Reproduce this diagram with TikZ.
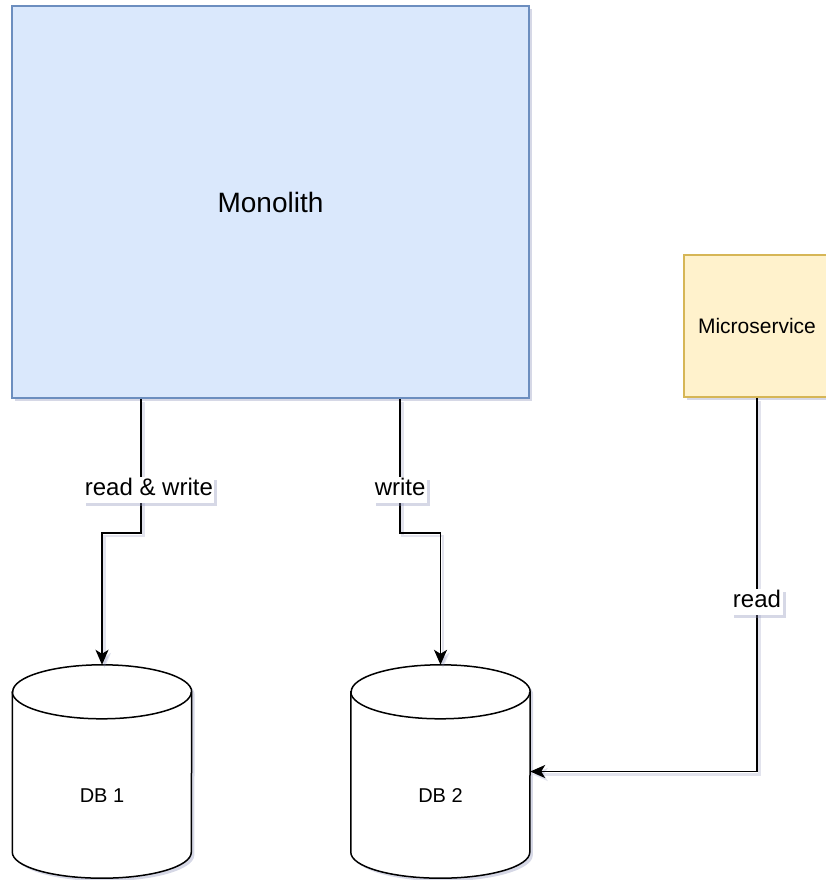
\documentclass[tikz,border=0pt]{standalone}
\usepackage{fontspec}
\setmainfont{Liberation Sans}
\usetikzlibrary{arrows.meta,shadows,calc}

\definecolor{monofill}{HTML}{DAE8FC}
\definecolor{monoline}{HTML}{6C8EBF}
\definecolor{msfill}{HTML}{FFF2CC}
\definecolor{msline}{HTML}{D6B656}
\definecolor{shadowcol}{HTML}{8A90B8}

\tikzset{
  softshadow/.style={drop shadow={shadow xshift=3pt, shadow yshift=-3pt, opacity=0.35, fill=shadowcol}},
  monobox/.style={draw=monoline, fill=monofill, line width=1.5pt, softshadow,
    minimum width=517pt, minimum height=392pt, inner sep=0pt,
    font=\fontsize{28}{32}\selectfont},
  msbox/.style={draw=msline, fill=msfill, line width=1.5pt, softshadow,
    minimum width=146pt, minimum height=142pt, inner sep=0pt,
    font=\fontsize{21}{25}\selectfont},
  dbframe/.style={minimum width=179pt, minimum height=213pt, inner sep=0pt},
  dbtext/.style={font=\fontsize{20}{24}\selectfont, inner sep=0pt},
  conn/.style={line width=1.6pt, -{Stealth[length=15pt, width=13pt, inset=4pt]},
    preaction={draw=shadowcol, opacity=0.25, line width=2.5pt,
      transform canvas={shift={(2.5pt,-3pt)}}}},
  lbl/.style={fill=white, softshadow, inner xsep=1.5pt, inner ysep=2pt,
    text height=17pt, text depth=5pt, font=\fontsize{24}{28}\selectfont},
}

% cylinder outline drawn around a frame node
\newcommand{\dbcylinder}[1]{%
  \fill[shadowcol, opacity=0.35, transform canvas={shift={(3pt,-3pt)}}]
    ([yshift=-27pt]#1.north west) -- ([yshift=26pt]#1.south west)
    arc[start angle=180, end angle=360, x radius=89.5pt, y radius=26pt]
    -- ([yshift=-27pt]#1.north east)
    arc[start angle=0, end angle=180, x radius=89.5pt, y radius=27pt] -- cycle;
  \draw[fill=white, line width=1.5pt]
    ([yshift=-27pt]#1.north west) -- ([yshift=26pt]#1.south west)
    arc[start angle=180, end angle=360, x radius=89.5pt, y radius=26pt]
    -- ([yshift=-27pt]#1.north east)
    arc[start angle=0, end angle=180, x radius=89.5pt, y radius=27pt] -- cycle;
  \draw[line width=1.5pt]
    ([yshift=-27pt]#1.north west)
    arc[start angle=180, end angle=360, x radius=89.5pt, y radius=27pt];
}

\begin{document}
\begin{tikzpicture}[x=1pt, y=-1pt]
  \useasboundingbox (0,0) rectangle (826,880);

  % services
  \node[monobox] (mono) at (270.5,202) {Monolith};
  \node[msbox] (ms) at (757,326) {Microservice};

  % databases
  \node[dbframe] (db1) at (102,771.5) {};
  \node[dbframe] (db2) at (440.5,771.5) {};
  \dbcylinder{db1}
  \dbcylinder{db2}
  \node[dbtext] (db1lbl) at ([yshift=-24pt]db1.center) {DB 1};
  \node[dbtext] (db2lbl) at ([yshift=-24pt]db2.center) {DB 2};

  % exit points on the monolith's lower edge
  \coordinate (m1) at ($(mono.south west)!0.25!(mono.south east)$);
  \coordinate (m2) at ($(mono.south west)!0.75!(mono.south east)$);

  % connectors
  \draw[conn] (m1) -- node[lbl, pos=0.68, xshift=8pt] (l1) {read \& write} ++(0,134) -| (db1.north);
  \draw[conn] (m2) -- node[lbl, pos=0.68] (l2) {write} ++(0,134) -| (db2.north);
  \draw[conn] (ms.south) |- node[lbl, pos=0.273] (l3) {read} (db2.east);
\end{tikzpicture}
\end{document}
